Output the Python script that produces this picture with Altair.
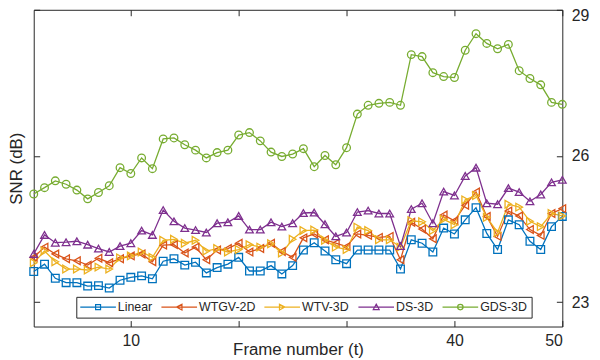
import altair as alt
import pandas as pd

# ---------------- data ----------------
frames = list(range(1, 51))
series_names = ["Linear", "WTGV-2D", "WTV-3D", "DS-3D", "GDS-3D"]

linear = [23.63, 23.78, 23.49, 23.40, 23.40, 23.33, 23.34, 23.29, 23.45, 23.51,
          23.54, 23.48, 23.84, 23.89, 23.76, 23.82, 23.60, 23.71, 23.78, 23.92,
          23.64, 23.64, 23.75, 23.58, 23.75, 24.07, 24.22, 24.05, 23.87, 23.79,
          24.07, 24.07, 24.07, 24.07, 23.68, 24.28, 24.21, 24.03, 24.52, 24.40,
          24.69, 24.94, 24.41, 24.08, 24.69, 24.59, 24.25, 24.08, 24.55, 24.76]
wtgv_2d = [23.92, 24.13, 23.99, 23.89, 23.85, 23.76, 23.90, 23.81, 23.89, 23.95,
           23.99, 23.83, 24.17, 24.18, 24.01, 24.13, 23.87, 24.07, 24.10, 24.21,
           24.03, 24.10, 24.21, 24.04, 23.92, 24.32, 24.40, 24.28, 24.21, 24.14,
           24.40, 24.37, 24.33, 24.35, 23.87, 24.64, 24.50, 24.30, 24.79, 24.67,
           24.99, 25.26, 24.76, 24.35, 24.87, 24.77, 24.49, 24.37, 24.82, 24.92]
wtv_3d = [23.81, 24.05, 23.83, 23.68, 23.68, 23.66, 23.72, 23.68, 23.91, 23.95,
          24.03, 23.92, 24.27, 24.29, 24.21, 24.27, 24.05, 24.10, 24.03, 24.08,
          24.18, 24.13, 24.20, 24.01, 24.29, 24.47, 24.48, 24.27, 24.13, 24.08,
          24.54, 24.47, 24.28, 24.28, 24.13, 24.67, 24.65, 24.47, 24.70, 24.59,
          25.10, 25.19, 24.74, 24.43, 25.01, 24.95, 24.66, 24.55, 24.82, 24.77]
ds_3d = [23.99, 24.38, 24.22, 24.23, 24.25, 24.18, 24.10, 24.03, 24.15, 24.21,
         24.47, 24.38, 24.89, 24.66, 24.52, 24.48, 24.43, 24.62, 24.64, 24.77,
         24.49, 24.49, 24.64, 24.55, 24.62, 24.83, 24.84, 24.60, 24.35, 24.43,
         24.85, 24.88, 24.82, 24.82, 24.15, 24.91, 25.03, 24.62, 25.27, 25.19,
         25.59, 25.76, 25.03, 25.01, 25.34, 25.26, 25.07, 25.21, 25.46, 25.51]
gds_3d = [25.22, 25.35, 25.49, 25.42, 25.30, 25.12, 25.25, 25.39, 25.76, 25.64,
          25.96, 25.74, 26.35, 26.37, 26.23, 26.12, 25.96, 26.07, 26.12, 26.43,
          26.48, 26.31, 26.08, 25.99, 26.04, 26.15, 25.78, 26.01, 25.82, 26.17,
          26.86, 27.04, 27.08, 27.10, 27.04, 28.08, 28.04, 27.71, 27.63, 27.61,
          28.17, 28.51, 28.31, 28.20, 28.29, 27.75, 27.59, 27.46, 27.10, 27.06]

x_tick_values = [10, 20, 30, 40, 50]
x_label_values = [10, 40, 50]
y_tick_values = [23, 26, 29]

# ---------------- styles ----------------
colors = ["#0072BD", "#D95319", "#EDB120", "#7E2F8E", "#77AC30"]
point_shapes = ["square", "triangle-left", "triangle-right", "triangle-up", "circle"]
LINE = "M-1.25,0H5.95"
legend_paths = [
    LINE + "M1.85,-0.5H2.85V0.5H1.85Z",
    LINE + "M1.8,0L2.9,-0.6L2.9,0.6Z",
    LINE + "M2.9,0L1.8,-0.6L1.8,0.6Z",
    LINE + "M2.35,-0.6L2.95,0.5L1.75,0.5Z",
    LINE + "M2.9,0A0.55,0.55,0,1,1,1.8,0A0.55,0.55,0,1,1,2.9,0Z",
]
FONT = "Liberation Sans"
INK = "#262626"
W, H = 534, 320

values = dict(zip(series_names, [linear, wtgv_2d, wtv_3d, ds_3d, gds_3d]))
rows = []
for name in series_names:
    for f, v in zip(frames, values[name]):
        rows.append({"frame": f, "snr": v, "series": name})
df = pd.DataFrame(rows)

xs = alt.Scale(domain=[1, 50], nice=False, zero=False)
ys = alt.Scale(domain=[22.5, 29], nice=False, zero=False)
color_scale = alt.Scale(domain=series_names, range=colors)


def X(axis):
    return alt.X("frame:Q", scale=xs, axis=axis)


def Y(axis):
    return alt.Y("snr:Q", scale=ys, axis=axis)


tick_only = dict(labels=False, domain=False, ticks=True, tickSize=6, tickWidth=1,
                 tickColor=INK, title=None, grid=False)

ax_bottom_labels = alt.Axis(orient="bottom", values=x_label_values, ticks=False, tickSize=0,
                            domain=False, labelFontSize=16, labelPadding=6, grid=False,
                            title="Frame number (t)", titleFontSize=17,
                            titleBaseline="alphabetic", titleY=28)
ax_bottom_inward = alt.Axis(orient="top", offset=-H, values=x_tick_values, **tick_only)
ax_top_inward = alt.Axis(orient="bottom", offset=-H, values=x_tick_values, **tick_only)

ay_left_title = alt.Axis(orient="left", ticks=False, labels=False, domain=False, grid=False,
                         title="SNR (dB)", titleFontSize=17, titlePadding=8)
ay_left_inward = alt.Axis(orient="right", offset=-W, values=y_tick_values, **tick_only)
ay_right_inward = alt.Axis(orient="left", offset=-W, values=y_tick_values, **tick_only)
ay_right_labels = alt.Axis(orient="right", values=y_tick_values, ticks=False, tickSize=0,
                           domain=False, labelFontSize=16, labelPadding=9, grid=False,
                           title=None,
                           labelOffset={"condition": {"test": "datum.value >= 29", "value": 6},
                                        "value": 0})

legend = alt.Legend(title=None, orient="none", legendX=43, legendY=290,
                    direction="horizontal", columns=5, symbolSize=100,
                    symbolStrokeWidth=1.2, symbolOpacity=1, symbolFillColor="transparent",
                    labelFont=FONT, labelFontSize=12.5, labelColor=INK, labelOffset=25.5,
                    columnPadding=6, padding=4, strokeColor=INK, fillColor="white")

color_enc = alt.Color("series:N", scale=color_scale, legend=legend)

layers = []

# connecting lines
layers.append(alt.Chart(df).mark_line(strokeWidth=1.3).encode(
    x=X(ax_bottom_labels),
    y=Y(ay_left_title),
    color=color_enc,
))

# hollow markers, one layer per series
for i, (name, shp) in enumerate(zip(series_names, point_shapes)):
    layers.append(alt.Chart(df).transform_filter(
        alt.datum.series == name
    ).mark_point(shape=shp, filled=False, size=60, strokeWidth=1.3, opacity=1).encode(
        x=X(ax_bottom_inward if i == 0 else None),
        y=Y(ay_left_inward if i == 0 else None),
        color=color_enc,
    ))

# legend carrier (invisible marks) + inward ticks on top/right edges
layers.append(alt.Chart(df).mark_point(filled=False, strokeWidth=1.2).encode(
    x=X(ax_top_inward),
    y=Y(ay_right_inward),
    color=color_enc,
    shape=alt.Shape("series:N", scale=alt.Scale(domain=series_names, range=legend_paths),
                    legend=legend),
    opacity=alt.value(0),
))

# right-hand labels
layers.append(alt.Chart(df).mark_point(opacity=0).encode(
    x=alt.X("frame:Q", scale=xs, axis=None),
    y=Y(ay_right_labels),
))

chart = alt.layer(*layers).resolve_axis(
    x="independent", y="independent"
).properties(
    width=W, height=H,
    autosize=alt.AutoSizeParams(type="none"),
    padding={"left": 26, "top": 0, "right": 30, "bottom": 32},
    background="white",
).configure_view(
    stroke=INK, strokeWidth=1
).configure_axis(
    labelFont=FONT, titleFont=FONT, labelColor=INK, titleColor=INK,
    titleFontWeight="normal", grid=False
).configure_legend(
    strokeColor=INK, strokeWidth=1, fillColor="white"
)

chart.save("out.html", embed_options={"renderer": "svg", "actions": False})
